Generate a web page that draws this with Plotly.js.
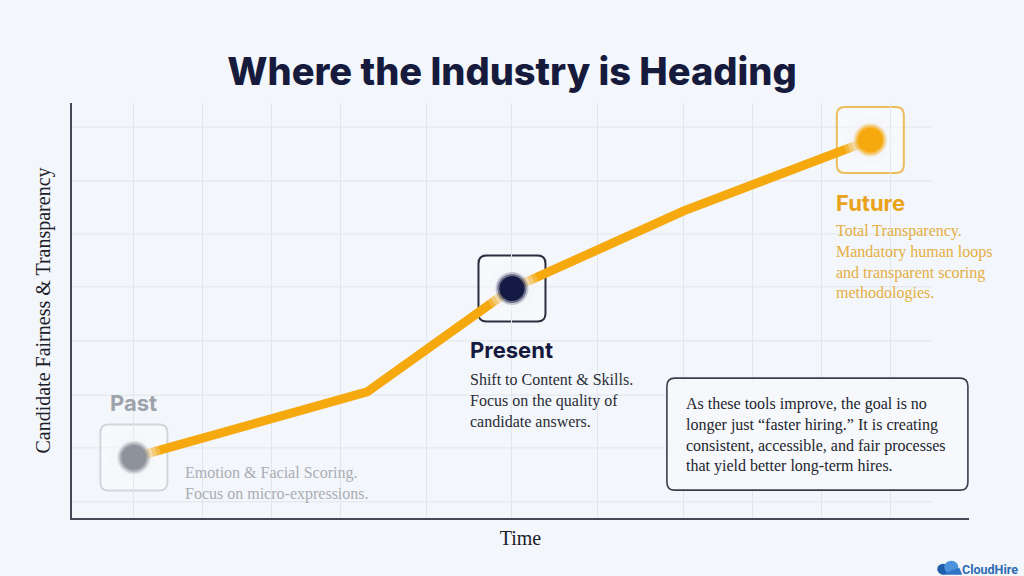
<!DOCTYPE html>
<html><head><meta charset="utf-8">
<script src="https://cdn.plot.ly/plotly-3.0.1.min.js"></script>
<style>html,body{margin:0;padding:0;background:#f3f6fa;} #chart{width:1024px;height:576px;}</style>
</head><body><div id="chart"></div>
<script>
// ---- data ----
const stages = ['Past', 'Present', 'Future'];
const stageX = [6.9, 49.05, 89.0];
const stageY = [14.6, 55.3, 91.1];
const pathX = [6.9, 32.9, 49.05, 68.2, 89.0];
const pathY = [14.6, 30.4, 55.3, 74.0, 91.1];
const stageNotes = [
  'Emotion &amp; Facial Scoring.<br>Focus on micro-expressions.',
  'Shift to Content &amp; Skills.<br>Focus on the quality of<br>candidate answers.',
  'Total Transparency.<br>Mandatory human loops<br>and transparent scoring<br>methodologies.'
];
const gridX = [6.9, 14.6, 22.2, 29.9, 39.5, 49.05, 58.6, 68.2, 75.9, 83.6, 91.3];
const gridY = [3.9, 16.9, 29.6, 42.7, 55.7, 68.4, 81.2, 94.2];
const insightText = 'As these tools improve, the goal is no<br>longer just “faster hiring.” It is creating<br>consistent, accessible, and fair processes<br>that yield better long-term hires.';

// ---- styles ----
const dotColors = ['#8e929a', '#151a45', '#f5a90f'];
const glowColors = ['rgba(142,146,154,0.30)', 'rgba(21,26,69,0.22)', 'rgba(245,169,15,0.30)'];
const glowColors2 = ['rgba(142,146,154,0.55)', 'rgba(21,26,69,0.5)', 'rgba(245,169,15,0.55)'];
const boxBorder = ['#d2d5da', '#2a2e3e', '#ebbd5c'];
const labelColors = ['#9ea2aa', '#151a3e', '#e9a31b'];
const noteColors = ['#a9adb5', '#2a2d36', '#e4ae42'];
const labelShift = [[0, 54.5, 'center'], [-44, -61.5, 'left'], [-36.5, -63, 'left']];
const noteShift = [[49.5, -26], [-44, -111.5], [-36.5, -122.5]];

function roundRect(hw, hh, r) {
  return `M ${-hw + r},${-hh} L ${hw - r},${-hh} Q ${hw},${-hh} ${hw},${-hh + r} L ${hw},${hh - r} Q ${hw},${hh} ${hw - r},${hh} L ${-hw + r},${hh} Q ${-hw},${hh} ${-hw},${hh - r} L ${-hw},${-hh + r} Q ${-hw},${-hh} ${-hw + r},${-hh} Z`;
}

const shapes = [];
gridY.forEach(v => shapes.push({type: 'line', xref: 'x', yref: 'y', x0: 0, x1: 95.9, y0: v, y1: v,
  line: {color: '#e2e5ea', width: 1}, layer: 'below'}));
stages.forEach((s, i) => shapes.push({
  type: 'path', xref: 'x', yref: 'y', xsizemode: 'pixel', ysizemode: 'pixel',
  xanchor: stageX[i], yanchor: stageY[i], path: roundRect(33.5, 33, 8),
  line: {color: boxBorder[i], width: 2}, fillcolor: 'rgba(255,255,255,0.35)', layer: 'below'
}));
shapes.push({type: 'path', xref: 'x', yref: 'y', xsizemode: 'pixel', ysizemode: 'pixel',
  xanchor: 83.1, yanchor: 20.2, path: roundRect(150.5, 56, 8),
  line: {color: '#3a3f4c', width: 1.6}, fillcolor: 'rgba(246,248,251,0.9)', layer: 'above'});
// logo cloud (paper coords, pixel sized)
const logoX = 0.978, logoY = -0.122;
shapes.push({type: 'circle', xref: 'paper', yref: 'paper', xsizemode: 'pixel', ysizemode: 'pixel',
  xanchor: logoX, yanchor: logoY, x0: -12, x1: 0, y0: -6, y1: 5, fillcolor: '#1f5eab', line: {width: 0}, layer: 'above'});
shapes.push({type: 'circle', xref: 'paper', yref: 'paper', xsizemode: 'pixel', ysizemode: 'pixel',
  xanchor: logoX, yanchor: logoY, x0: -5, x1: 9, y0: -5, y1: 8, fillcolor: '#4b93dc', line: {width: 0}, layer: 'above'});
shapes.push({type: 'path', xref: 'paper', yref: 'paper', xsizemode: 'pixel', ysizemode: 'pixel',
  xanchor: logoX, yanchor: logoY, path: 'M -8,-6 L 13,-6 L 10,1 Z', fillcolor: '#2f73c4', line: {width: 0}, layer: 'above'});

const annotations = [];
stages.forEach((s, i) => {
  annotations.push({x: stageX[i], y: stageY[i], xref: 'x', yref: 'y', text: s, showarrow: false,
    xanchor: labelShift[i][2], yanchor: 'middle', xshift: labelShift[i][0], yshift: labelShift[i][1],
    font: {family: 'Inter, sans-serif', size: 22, color: labelColors[i], weight: 700}});
  annotations.push({x: stageX[i], y: stageY[i], xref: 'x', yref: 'y', text: stageNotes[i], showarrow: false,
    xanchor: 'left', yanchor: 'middle', align: 'left', xshift: noteShift[i][0], yshift: noteShift[i][1],
    font: {family: 'Liberation Serif, serif', size: 16, color: noteColors[i]}});
});
annotations.push({x: 68.2, y: 19.9, xref: 'x', yref: 'y', text: insightText, showarrow: false,
  xanchor: 'left', yanchor: 'middle', align: 'left',
  font: {family: 'Liberation Serif, serif', size: 16, color: '#22252e'}});
annotations.push({x: 1.057, y: -0.124, xref: 'paper', yref: 'paper', xanchor: 'right', yanchor: 'middle',
  text: 'CloudHire', showarrow: false, font: {family: 'Roboto, sans-serif', size: 12.5, color: '#2d6cb4', weight: 700}});

const bg = 'rgba(243,246,250,';
const traces = [
  {x: pathX, y: pathY, type: 'scatter', mode: 'lines', line: {color: '#f5a90f', width: 9}, hoverinfo: 'skip'},
  {x: stageX, y: stageY, type: 'scatter', mode: 'markers', hoverinfo: 'skip',
    marker: {size: 54, color: bg + '0.2)', line: {width: 0}}},
  {x: stageX, y: stageY, type: 'scatter', mode: 'markers', hoverinfo: 'skip',
    marker: {size: 46, color: bg + '0.3)', line: {width: 0}}},
  {x: stageX, y: stageY, type: 'scatter', mode: 'markers', hoverinfo: 'skip',
    marker: {size: 38, color: bg + '0.4)', line: {width: 0}}},
  {x: stageX, y: stageY, type: 'scatter', mode: 'markers', hoverinfo: 'skip',
    marker: {size: 33, color: glowColors, line: {width: 0}}},
  {x: stageX, y: stageY, type: 'scatter', mode: 'markers', hoverinfo: 'skip',
    marker: {size: 29, color: glowColors2, line: {width: 0}}},
  {x: stageX, y: stageY, type: 'scatter', mode: 'markers', hoverinfo: 'skip',
    marker: {size: 25, color: dotColors, line: {width: 0}}}
];

const layout = {
  width: 1024, height: 576,
  paper_bgcolor: '#f3f6fa', plot_bgcolor: '#f3f6fa',
  margin: {l: 72, r: 55, t: 103, b: 58},
  showlegend: false,
  title: {text: 'Where the Industry is Heading', x: 0.5, xref: 'container', xanchor: 'center',
    y: 0.875, yref: 'container', yanchor: 'middle',
    font: {family: 'Inter, sans-serif', size: 38, color: '#161b3d', weight: 800}},
  xaxis: {range: [0, 100], tickvals: gridX, showticklabels: false, ticks: '',
    showgrid: true, gridcolor: '#e2e5ea', gridwidth: 1, zeroline: false,
    showline: true, linecolor: '#454a57', linewidth: 2, fixedrange: true,
    title: {text: 'Time', standoff: 12, font: {family: 'Liberation Serif, serif', size: 20, color: '#1d2029'}}},
  yaxis: {range: [0, 100], tickvals: gridY, showticklabels: false, ticks: '',
    showgrid: false, zeroline: false,
    showline: true, linecolor: '#454a57', linewidth: 2, fixedrange: true,
    title: {text: 'Candidate Fairness &amp; Transparency', standoff: 14, font: {family: 'Liberation Serif, serif', size: 20, color: '#1d2029'}}},
  shapes: shapes,
  annotations: annotations
};

Plotly.newPlot('chart', traces, layout, {staticPlot: true, displayModeBar: false});
</script></body></html>
